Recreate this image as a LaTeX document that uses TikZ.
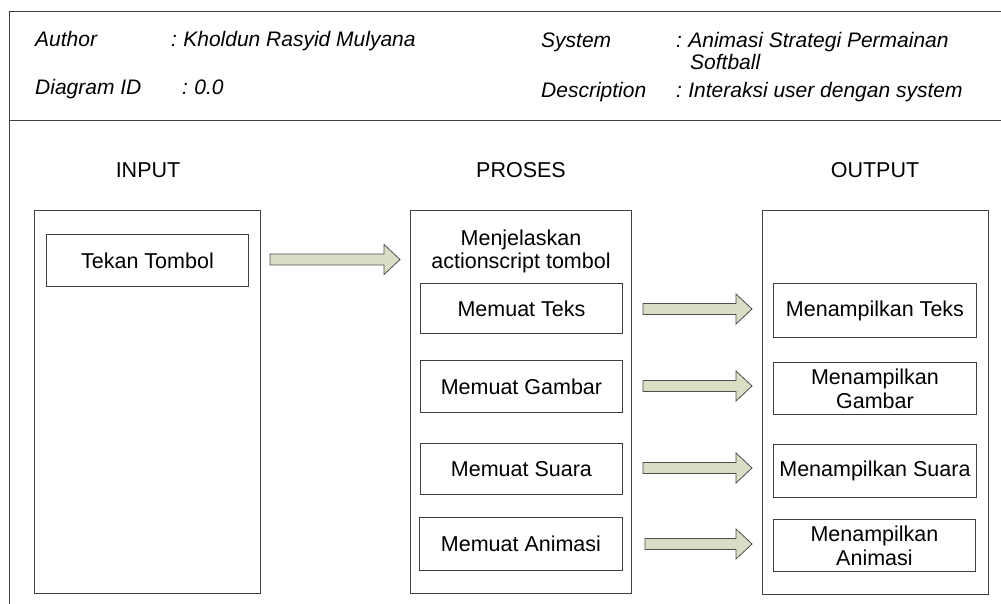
\documentclass[tikz,border=0pt]{standalone}
\usepackage{fontspec}
\setmainfont{Liberation Sans}
\begin{document}
\begin{tikzpicture}[x=1pt,y=-1pt,
  line/.style={draw=black!75,line width=0.9pt},
  outerbox/.style={line, rectangle, anchor=north west, inner sep=0pt},
  itembox/.style={line, rectangle, anchor=north west, inner sep=0pt, align=center,
     font=\fontsize{21.5}{24}\selectfont},
  hdr/.style={anchor=base west, inner sep=0pt, font=\fontsize{21}{23}\selectfont\itshape},
  title/.style={inner sep=0pt, font=\fontsize{21.5}{24}\selectfont},
  blockarrow/.style={draw=black!70, line width=0.8pt, fill=arrowfill, line join=miter}
]
\definecolor{arrowfill}{HTML}{D9DEC5}
\useasboundingbox (0,0) rectangle (1001,604);
% frame
\coordinate (ftr) at (1001,11);
\coordinate (ftl) at (9,11);
\coordinate (fbl) at (9,604);
\coordinate (dl) at (9,120);
\coordinate (dr) at (1001,120);
\draw[line] (ftr) -- (ftl) -- (fbl);
\draw[line] (dl) -- (dr);
% header texts
\node[hdr] (author) at (35,47) {Author};
\node[hdr] (authorv) at (171,47) {:\hspace{0.3em}Kholdun Rasyid Mulyana};
\node[hdr] (diag) at (35,95) {Diagram ID};
\node[hdr] (diagv) at (182,95) {:\hspace{0.3em}0.0};
\node[hdr] (sys) at (541,48) {System};
\node[hdr] (sysv) at (676,48) {:\hspace{0.3em}Animasi Strategi Permainan};
\node[hdr] (sysv2) at (690,70) {Softball};
\node[hdr] (desc) at (541,98) {Description};
\node[hdr] (descv) at (676,98) {:\hspace{0.3em}Interaksi user dengan system};
% column titles
\node[title] (tin) at (148,170) {INPUT};
\node[title] (tpr) at (521,170) {PROSES};
\node[title] (tout) at (875,170) {OUTPUT};
% outer boxes
\node[outerbox, minimum width=226pt, minimum height=383pt] (inbox) at (34,210) {};
\node[outerbox, minimum width=221pt, minimum height=383pt] (prbox) at (410,210) {};
\node[outerbox, minimum width=226pt, minimum height=384pt] (outbox) at (762,210) {};
% input
\node[itembox, minimum width=202pt, minimum height=52pt] (tekan) at (46,234) {Tekan Tombol};
% proses
\node[title, align=center] (menj) at (521,251) {Menjelaskan\\[-1pt]actionscript tombol};
\node[itembox, minimum width=202pt, minimum height=50pt] (mteks) at (420,283) {Memuat Teks};
\node[itembox, minimum width=202pt, minimum height=52pt] (mgambar) at (420,360) {Memuat Gambar};
\node[itembox, minimum width=202pt, minimum height=51pt] (msuara) at (420,443) {Memuat Suara};
\node[itembox, minimum width=203pt, minimum height=53pt] (manim) at (419,517) {Memuat Animasi};
% output
\node[itembox, minimum width=203pt, minimum height=54pt] (oteks) at (773,283) {Menampilkan Teks};
\node[itembox, minimum width=203pt, minimum height=52pt] (ogambar) at (773,362) {Menampilkan\\Gambar};
\node[itembox, minimum width=203pt, minimum height=53pt] (osuara) at (773,444) {Menampilkan Suara};
\node[itembox, minimum width=202pt, minimum height=52pt] (oanim) at (773,519) {Menampilkan\\Animasi};
% block arrows
\newcommand{\blkarrow}[3]{% x1, x2, yc
  \draw[blockarrow] (#1,#3-5.5) -- (#2-16,#3-5.5) -- (#2-16,#3-15) -- (#2,#3)
    -- (#2-16,#3+15) -- (#2-16,#3+5.5) -- (#1,#3+5.5) -- cycle;}
\blkarrow{270}{400}{259.5}
\blkarrow{643}{752}{309}
\blkarrow{643}{752}{386}
\blkarrow{643}{752}{468}
\blkarrow{645}{752}{544}
\end{tikzpicture}
\end{document}
